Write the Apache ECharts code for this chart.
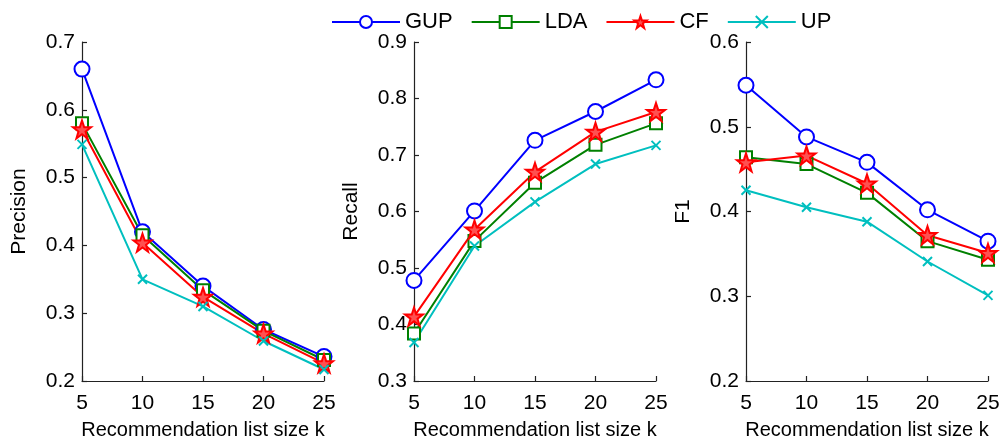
<!DOCTYPE html>
<html>
<head>
<meta charset="utf-8">
<script src="https://cdn.jsdelivr.net/npm/echarts@6/dist/echarts.min.js"></script>
<style>
  html, body { margin: 0; padding: 0; background: #fff; }
  #chart { width: 1008px; height: 441px; }
</style>
</head>
<body>
<div id="chart"></div>
<script>
// list sizes k
const kValues = [5, 10, 15, 20, 25];
const methods = ['GUP', 'LDA', 'CF', 'UP'];

// Precision
const precisionGUP = [0.660, 0.420, 0.340, 0.276, 0.236];
const precisionLDA = [0.580, 0.415, 0.334, 0.274, 0.231];
const precisionCF  = [0.571, 0.404, 0.324, 0.270, 0.226];
const precisionUP  = [0.549, 0.350, 0.310, 0.259, 0.217];

// Recall
const recallGUP = [0.478, 0.601, 0.726, 0.777, 0.833];
const recallLDA = [0.384, 0.548, 0.651, 0.718, 0.756];
const recallCF  = [0.414, 0.568, 0.670, 0.741, 0.776];
const recallUP  = [0.368, 0.539, 0.617, 0.684, 0.717];

// F1
const f1GUP = [0.549, 0.488, 0.458, 0.402, 0.365];
const f1LDA = [0.464, 0.456, 0.422, 0.365, 0.343];
const f1CF  = [0.458, 0.466, 0.433, 0.372, 0.351];
const f1UP  = [0.425, 0.405, 0.388, 0.341, 0.301];

const yTicks = [
  { name: 'Precision', min: 0.2, max: 0.7 },
  { name: 'Recall', min: 0.3, max: 0.9 },
  { name: 'F1', min: 0.2, max: 0.6 }
];
const xTitle = 'Recommendation list size k';

const colors = { GUP: '#0000ff', LDA: '#008000', CF: '#ff0000', UP: '#00bfbf' };
const starPath = 'path://M50,0L61.8,34.5L97.6,34.5L68.8,55.9L79.4,90.5L50,69.1L20.6,90.5L31.2,55.9L2.4,34.5L38.2,34.5Z';
const crossPath = 'path://M0,0L10,10M10,0L0,10';

const markers = {
  GUP: { symbol: 'circle', symbolSize: 15, fill: '#fff' },
  LDA: { symbol: 'rect', symbolSize: 12, fill: '#fff' },
  CF:  { symbol: starPath, symbolSize: 18, fill: '#ff5050' },
  UP:  { symbol: crossPath, symbolSize: 9, fill: '#00bfbf' }
};

const data = [
  { GUP: precisionGUP, LDA: precisionLDA, CF: precisionCF, UP: precisionUP },
  { GUP: recallGUP, LDA: recallLDA, CF: recallCF, UP: recallUP },
  { GUP: f1GUP, LDA: f1LDA, CF: f1CF, UP: f1UP }
];

const gridLefts = [82, 414, 746];
const font = 'Liberation Sans';

const chart = echarts.init(document.getElementById('chart'));

const grids = gridLefts.map(l => ({
  left: l, top: 42, width: 242, height: 339, outerBoundsMode: 'none'
}));

const axisLine = { show: true, lineStyle: { color: '#222', width: 1.2 } };
const axisTick = { show: true, inside: true, length: 5, lineStyle: { color: '#222', width: 1.2 } };

const xAxes = grids.map((g, i) => ({
  type: 'value', gridIndex: i, min: 5, max: 25, interval: 5,
  name: xTitle, nameLocation: 'middle', nameGap: 39,
  nameTextStyle: { fontFamily: font, fontSize: 20, color: '#000' },
  axisLine, axisTick, splitLine: { show: false },
  axisLabel: { fontFamily: font, fontSize: 21, color: '#000', margin: 12 }
}));

const yAxes = yTicks.map((t, i) => ({
  type: 'value', gridIndex: i, min: t.min, max: t.max, interval: 0.1,
  name: t.name, nameLocation: 'middle', nameGap: 52,
  nameTextStyle: { fontFamily: font, fontSize: 21, color: '#000' },
  axisLine, axisTick, splitLine: { show: false },
  axisLabel: { fontFamily: font, fontSize: 21, color: '#000', margin: 7,
    formatter: v => v.toFixed(1) }
}));

const series = [];
data.forEach((panel, i) => {
  methods.forEach(m => {
    series.push({
      name: m, type: 'line', xAxisIndex: i, yAxisIndex: i,
      data: kValues.map((k, j) => [k, panel[m][j]]),
      symbol: markers[m].symbol, symbolSize: markers[m].symbolSize,
      showAllSymbol: true,
      lineStyle: { color: colors[m], width: 2 },
      itemStyle: { color: markers[m].fill, borderColor: colors[m], borderWidth: 2 },
      emphasis: { disabled: true },
      animation: false
    });
  });
});

chart.setOption({
  backgroundColor: '#fff',
  animation: false,
  legend: {
    data: methods, top: 6, left: 326, itemWidth: 68, itemHeight: 15, itemGap: 18,
    textStyle: { fontFamily: font, fontSize: 22, color: '#000' }
  },
  grid: grids,
  xAxis: xAxes,
  yAxis: yAxes,
  series
});
</script>
</body>
</html>
